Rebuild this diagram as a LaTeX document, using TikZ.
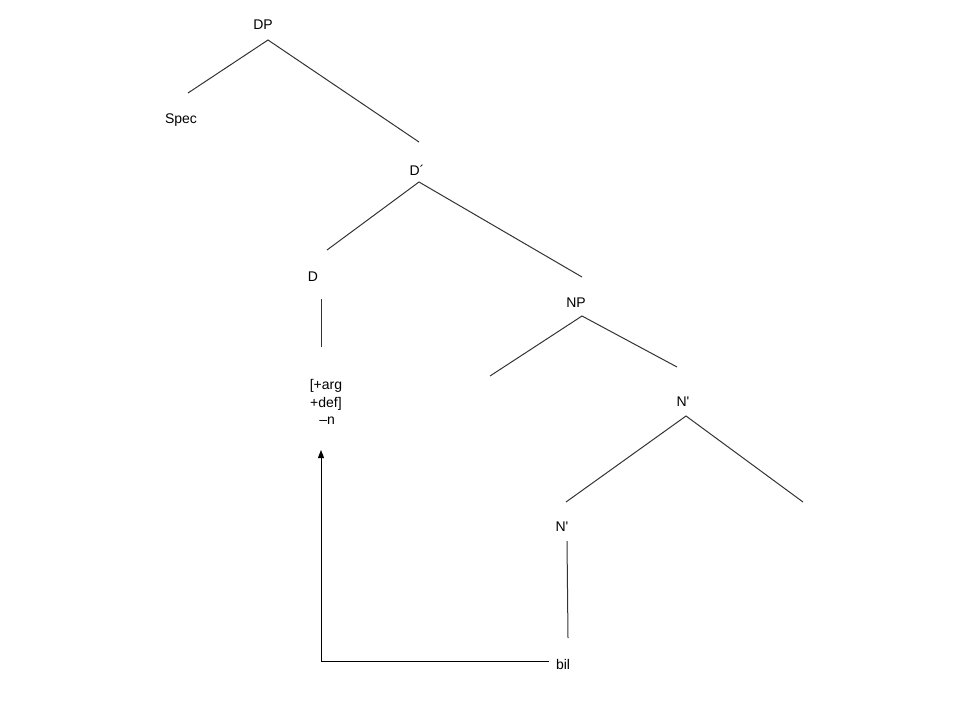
\documentclass[tikz,border=0pt]{standalone}
\usepackage{fontspec}
\setmainfont{Liberation Sans}[Ligatures=TeXOff]
\usetikzlibrary{arrows.meta}
\begin{document}
\begin{tikzpicture}[x=1pt,y=-1pt,
  lbl/.style={inner sep=0pt,font=\fontsize{14}{17.5}\selectfont},
  branch/.style={line width=1pt,draw=black!80},
  movearrow/.style={line width=1pt,draw=black,-{Triangle[length=8pt,width=6pt]}}]
\useasboundingbox (0,0) rectangle (960,720);
% labels
\node[lbl] (DP) at (263,25) {DP};
\node[lbl] (Spec) at (181,120) {Spec};
\node[lbl] (Dbar) at (417,170) {D´};
\node[lbl] (D) at (313,277) {D};
\node[lbl,align=center] (feat) at (326,402) {[+arg\\+def]\\\,–n};
\node[lbl] (NP) at (576,303) {NP};
\node[lbl] (Nbar1) at (683,402) {N'};
\node[lbl] (Nbar2) at (562,527) {N'};
\node[lbl] (bil) at (563,664) {bil};
% coordinates
\coordinate (dpA) at (268,40);
\coordinate (dpL) at (188,93);
\coordinate (dpR) at (419,142);
\coordinate (dbA) at (419,182);
\coordinate (dbL) at (327,250);
\coordinate (dbR) at (582,277);
\coordinate (dT) at (321,299);
\coordinate (dB) at (321,347);
\coordinate (npA) at (582,316);
\coordinate (npL) at (490,376);
\coordinate (npR) at (677,367);
\coordinate (n1A) at (686,416);
\coordinate (n1L) at (566,502);
\coordinate (n1R) at (803,502);
\coordinate (n2T) at (567,541);
\coordinate (n2B) at (568,638);
\coordinate (arrTip) at (321,450);
\coordinate (corner) at (321,661);
\coordinate (arrStart) at (549,661);
% branches
\draw[branch] (dpL) -- (dpA) -- (dpR);
\draw[branch] (dbL) -- (dbA) -- (dbR);
\draw[branch] (dT) -- (dB);
\draw[branch] (npL) -- (npA) -- (npR);
\draw[branch] (n1L) -- (n1A) -- (n1R);
\draw[branch] (n2T) -- (n2B);
% movement arrow
\draw[movearrow] (arrStart) -- (corner) -- (arrTip);
\end{tikzpicture}
\end{document}
